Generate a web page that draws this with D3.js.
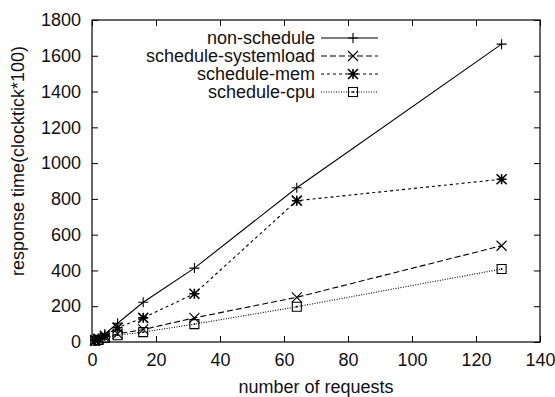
<!DOCTYPE html>
<html>
<head>
<meta charset="utf-8">
<script src="https://cdn.jsdelivr.net/npm/d3@7"></script>
<style>
  body { margin: 0; background: #fff; }
  svg { display: block; font-family: "Liberation Sans", Arial, sans-serif; }
</style>
</head>
<body>
<script>
const requests = [1, 2, 4, 8, 16, 32, 64, 128];
const nonSchedule = [10, 20, 45, 105, 222, 413, 862, 1665];
const scheduleSystemload = [8, 14, 25, 45, 70, 135, 250, 538];
const scheduleMem = [9, 18, 35, 80, 135, 270, 790, 910];
const scheduleCpu = [7, 12, 22, 38, 55, 100, 197, 408];
const xTicks = [0, 20, 40, 60, 80, 100, 120, 140];
const yTicks = [0, 200, 400, 600, 800, 1000, 1200, 1400, 1600, 1800];

const width = 555;
const height = 397;
const plotLeft = 92, plotRight = 540, plotTop = 20, plotBottom = 342;
const fontSize = 18;

const series = [
  { name: "non-schedule", values: nonSchedule, dash: null, marker: "plus" },
  { name: "schedule-systemload", values: scheduleSystemload, dash: "6,3", marker: "cross" },
  { name: "schedule-mem", values: scheduleMem, dash: "3,3", marker: "star" },
  { name: "schedule-cpu", values: scheduleCpu, dash: "1,1.5", marker: "square" }
];

const svg = d3.select("body")
              .append("svg")
              .attr("width", width)
              .attr("height", height);

const x = d3.scaleLinear().domain([0, 140]).range([plotLeft, plotRight]);
const y = d3.scaleLinear().domain([0, 1800]).range([plotBottom, plotTop]);

// axes, gnuplot style: ticks inward and mirrored
svg.append("g")
   .attr("transform", "translate(0," + plotBottom + ")")
   .call(d3.axisBottom(x).tickValues(xTicks).tickSize(-6).tickPadding(11).tickFormat(d3.format("d")))
   .call(g => g.select(".domain").remove());
svg.append("g")
   .attr("transform", "translate(0," + plotTop + ")")
   .call(d3.axisTop(x).tickValues(xTicks).tickSize(-6).tickFormat(""))
   .call(g => g.select(".domain").remove());
svg.append("g")
   .attr("transform", "translate(" + plotLeft + ",0)")
   .call(d3.axisLeft(y).tickValues(yTicks).tickSize(-6).tickPadding(11).tickFormat(d3.format("d")))
   .call(g => g.select(".domain").remove());
svg.append("g")
   .attr("transform", "translate(" + plotRight + ",0)")
   .call(d3.axisRight(y).tickValues(yTicks).tickSize(-6).tickFormat(""))
   .call(g => g.select(".domain").remove());

svg.selectAll(".tick line").attr("stroke", "#000").attr("stroke-width", 1);
svg.selectAll(".tick text")
   .attr("font-size", fontSize)
   .attr("font-family", "Liberation Sans, Arial, sans-serif")
   .attr("fill", "#111");

svg.append("rect")
   .attr("x", plotLeft).attr("y", plotTop)
   .attr("width", plotRight - plotLeft).attr("height", plotBottom - plotTop)
   .attr("fill", "none").attr("stroke", "#000").attr("stroke-width", 1.2);

svg.append("text")
   .attr("x", 316)
   .attr("y", 393)
   .attr("text-anchor", "middle")
   .attr("font-size", fontSize)
   .attr("fill", "#111")
   .text("number of requests");

svg.append("text")
   .attr("transform", "translate(24,161) rotate(-90)")
   .attr("text-anchor", "middle")
   .attr("font-size", fontSize)
   .attr("fill", "#111")
   .text("response time(clocktick*100)");

function drawMarker(g, type, cx, cy) {
  const s = 5;
  const p = d3.path();
  if (type === "plus" || type === "star") {
    p.moveTo(cx - s, cy); p.lineTo(cx + s, cy);
    p.moveTo(cx, cy - s); p.lineTo(cx, cy + s);
  }
  if (type === "cross" || type === "star") {
    p.moveTo(cx - s, cy - s); p.lineTo(cx + s, cy + s);
    p.moveTo(cx - s, cy + s); p.lineTo(cx + s, cy - s);
  }
  if (type === "square") {
    p.rect(cx - 4.5, cy - 4.5, 9, 9);
    g.append("circle").attr("cx", cx).attr("cy", cy).attr("r", 0.9).attr("fill", "#000");
  }
  g.append("path").attr("d", p.toString())
   .attr("fill", "none").attr("stroke", "#000")
   .attr("stroke-width", type === "star" ? 1.6 : 1.1);
}

const line = d3.line()
               .x((d, i) => x(requests[i]))
               .y(d => y(d));

series.forEach(s => {
  svg.append("path")
     .datum(s.values)
     .attr("d", line)
     .attr("fill", "none")
     .attr("stroke", "#000")
     .attr("stroke-width", 1.1)
     .attr("stroke-dasharray", s.dash);
  const g = svg.append("g");
  s.values.forEach((v, i) => drawMarker(g, s.marker, x(requests[i]), y(v)));
});

// legend
const legend = svg.append("g");
series.forEach((s, i) => {
  const ly = 38 + i * 18;
  legend.append("text")
        .attr("x", 315).attr("y", ly + 6)
        .attr("text-anchor", "end")
        .attr("font-size", fontSize)
        .attr("fill", "#111")
        .text(s.name);
  legend.append("line")
        .attr("x1", 321).attr("x2", 378)
        .attr("y1", ly).attr("y2", ly)
        .attr("stroke", "#000").attr("stroke-width", 1.1)
        .attr("stroke-dasharray", s.dash);
  drawMarker(legend, s.marker, 353, ly);
});
</script>
</body>
</html>
